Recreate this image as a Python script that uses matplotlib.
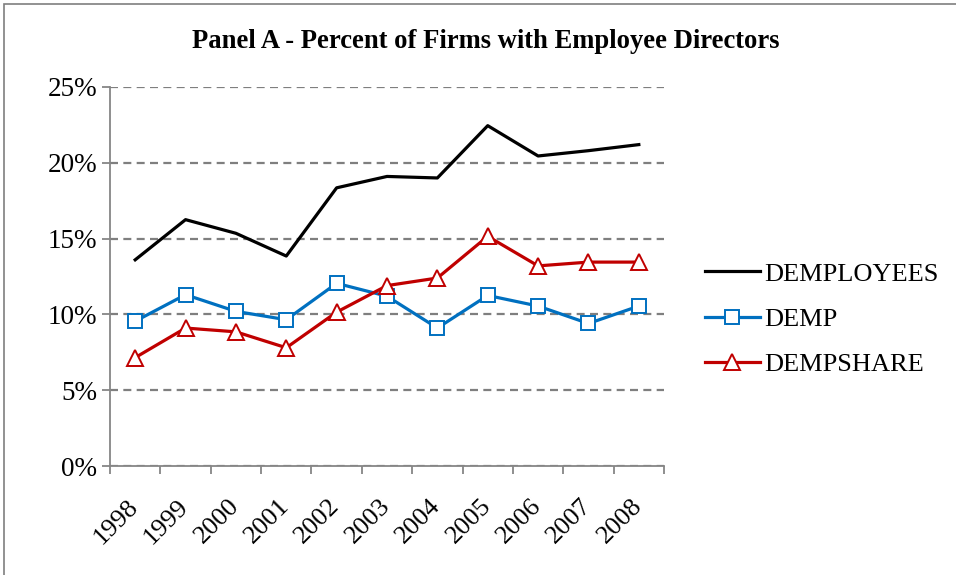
import matplotlib
matplotlib.use('Agg')
import matplotlib.pyplot as plt
import matplotlib.transforms as mtransforms
from matplotlib.patches import Rectangle
from matplotlib.ticker import FuncFormatter, MultipleLocator

# data (percent)
years = ['1998', '1999', '2000', '2001', '2002', '2003', '2004', '2005', '2006', '2007', '2008']
demployees = [13.6, 16.25, 15.35, 13.85, 18.35, 19.1, 19.0, 22.45, 20.45, 20.8, 21.2]
demp = [9.55, 11.3, 10.2, 9.65, 12.05, 11.2, 9.1, 11.25, 10.55, 9.4, 10.55]
dempshare = [7.15, 9.1, 8.85, 7.8, 10.15, 11.9, 12.4, 15.15, 13.2, 13.45, 13.45]

plt.rcParams['font.family'] = ['Liberation Serif', 'DejaVu Serif']

fig = plt.figure(figsize=(9.56, 5.75), dpi=100)
ax = fig.add_axes([110/956, 1-466/575, 554/956, 379/575])

# outer chart border (only top and left show in the crop)
fig.patches.append(Rectangle((4/956, -0.1), 1.0, 1.1-4/575, transform=fig.transFigure,
                             fill=False, edgecolor='#7f7f7f', linewidth=1.2))

x = list(range(len(years)))
ax.plot(x, demployees, color='black', lw=2.3, label='DEMPLOYEES', zorder=3)
ax.plot(x, demp, color='#0070C0', lw=2.3, marker='s', markersize=10.5,
        markerfacecolor='white', markeredgecolor='#0070C0', markeredgewidth=1.4, label='DEMP', zorder=3)
ax.plot(x, dempshare, color='#C00000', lw=2.3, marker='^', markersize=12,
        markerfacecolor='white', markeredgecolor='#C00000', markeredgewidth=1.4, label='DEMPSHARE', zorder=3)

ax.set_xlim(-0.5, len(years) - 0.5)
ax.set_ylim(0, 25)
ax.yaxis.set_major_locator(MultipleLocator(5))
ax.yaxis.set_major_formatter(FuncFormatter(lambda v, p: '%d%%' % v))
ax.grid(axis='y', color='#7f7f7f', linestyle=(0, (3.6, 2.4)), linewidth=1.6)
ax.set_axisbelow(True)

# tick marks sit between categories, labels at the category centres
ax.set_xticks([i - 0.5 for i in range(len(years) + 1)], minor=False)
ax.set_xticklabels([])
ax.set_xticks(x, minor=True)
ax.set_xticklabels(years, minor=True, rotation=45, ha='right', rotation_mode='anchor', fontsize=19)
ax.tick_params(axis='x', which='minor', length=0, pad=21)
ax.tick_params(axis='x', which='major', length=6, color='#868686', width=1.3)
ax.tick_params(axis='y', length=6, color='#868686', width=1.3, labelsize=19.5, pad=3)
# nudge the slanted year labels a little to the left
shift = mtransforms.ScaledTranslation(-8/100, 0, fig.dpi_scale_trans)
for lab in ax.get_xticklabels(minor=True):
    lab.set_transform(lab.get_transform() + shift)

for s in ['top', 'right']:
    ax.spines[s].set_visible(False)
for s in ['left', 'bottom']:
    ax.spines[s].set_color('#868686')
    ax.spines[s].set_linewidth(1.3)

fig.text(486/956, 1-42/575, 'Panel A - Percent of Firms with Employee Directors',
         ha='center', va='center', fontsize=19.2, fontweight='bold')

ax.legend(loc='center left', bbox_to_anchor=((681-110)/554, (466-319)/379), frameon=False, fontsize=19,
          handlelength=2.1, handletextpad=0.15, labelspacing=0.82)

fig.savefig('out.png', dpi=100)
